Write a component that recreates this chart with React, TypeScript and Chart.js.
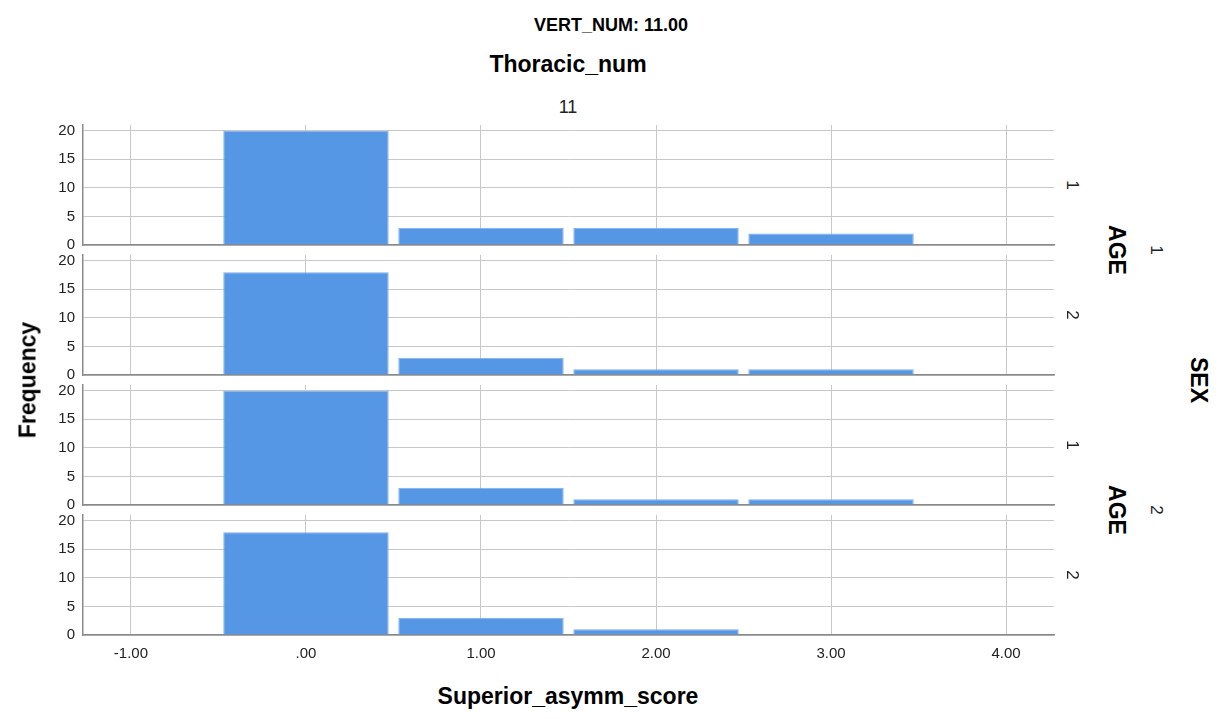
import React, { useEffect, useRef } from "react";
import { Chart, registerables } from "chart.js";

Chart.register(...registerables);

// ---- data ----
const binCenters = [0, 1, 2, 3];
const xTickValues = [-1, 0, 1, 2, 3, 4];
const xTickLabels = ["-1.00", ".00", "1.00", "2.00", "3.00", "4.00"];
const yTickValues = [0, 5, 10, 15, 20];
const sex1Age1 = [20, 3, 3, 2];
const sex1Age2 = [18, 3, 1, 1];
const sex2Age1 = [20, 3, 1, 1];
const sex2Age2 = [18, 3, 1, 0];
const panelValues = [sex1Age1, sex1Age2, sex2Age1, sex2Age2];
const ageLabels = ["1", "2", "1", "2"];
const sexLabels = ["1", "2"];

const FONT = "'Liberation Sans', Arial, Helvetica, sans-serif";
const BAR = "#5596e5";
const GRID = "#c8c8c8";
const AXIS = "#8a8a8a";

const PANEL_TOP = 125;
const PANEL_H = 120;
const PANEL_STEP = 130;
const PAD = 22;
const X_AXIS_H = 40;

function Panel({ values, index, showX }: { values: number[]; index: number; showX: boolean }) {
  const ref = useRef<HTMLCanvasElement | null>(null);
  useEffect(() => {
    if (!ref.current) return;
    const chart = new Chart(ref.current, {
      type: "bar",
      data: {
        datasets: [
          {
            data: binCenters.map((x, i) => ({ x, y: values[i] })),
            backgroundColor: BAR,
            borderColor: "#7eaeea",
            borderWidth: 1,
            borderSkipped: "bottom",
            categoryPercentage: 1,
            barPercentage: 0.945,
          },
        ],
      },
      options: {
        animation: false,
        responsive: false,
        events: [],
        layout: { padding: { top: PAD, bottom: showX ? 0 : PAD, left: 0, right: 8 } },
        plugins: { legend: { display: false }, tooltip: { enabled: false }, title: { display: false } },
        scales: {
          x: {
            type: "linear",
            min: -1.274,
            max: 4.274,
            offset: false,
            grid: { color: GRID, lineWidth: 1, drawTicks: false, offset: false },
            border: { color: AXIS, width: 1.5 },
            afterBuildTicks: (scale: any) => {
              scale.ticks = xTickValues.map((v) => ({ value: v }));
            },
            afterFit: (scale: any) => {
              scale.height = showX ? X_AXIS_H : 0;
            },
            ticks: {
              display: showX,
              autoSkip: false,
              maxRotation: 0,
              padding: 10,
              color: "#222",
              font: { family: FONT, size: 15 },
              callback: (v: any) => {
                const i = xTickValues.indexOf(Number(v));
                return i >= 0 ? xTickLabels[i] : "";
              },
            },
          },
          y: {
            type: "linear",
            min: 0,
            max: 21,
            grid: { color: GRID, lineWidth: 1, drawTicks: false },
            border: { color: AXIS, width: 1.5 },
            afterBuildTicks: (scale: any) => {
              scale.ticks = yTickValues.map((v) => ({ value: v }));
            },
            afterFit: (scale: any) => {
              scale.width = 83;
            },
            ticks: {
              padding: 8,
              color: "#222",
              font: { family: FONT, size: 15 },
            },
          },
        },
      },
    } as any);
    return () => chart.destroy();
  }, [values, showX]);

  const top = PANEL_TOP + PANEL_STEP * index - PAD;
  const height = PAD + PANEL_H + (showX ? X_AXIS_H : PAD);
  return (
    <div style={{ position: "absolute", left: 0, top, width: 1062, height }}>
      <canvas ref={ref} width={1062} height={height} style={{ display: "block" }} />
    </div>
  );
}

function Label({
  text,
  x,
  y,
  size,
  bold,
  rotate,
}: {
  text: string;
  x: number;
  y: number;
  size: number;
  bold?: boolean;
  rotate?: number;
}) {
  return (
    <div
      style={{
        position: "absolute",
        left: x,
        top: y,
        transform: `translate(-50%, -50%) rotate(${rotate || 0}deg)`,
        fontFamily: FONT,
        fontSize: size,
        fontWeight: bold ? "bold" : "normal",
        lineHeight: 1,
        whiteSpace: "nowrap",
        color: bold ? "#000" : "#222",
      }}
    >
      {text}
    </div>
  );
}

export default function App() {
  return (
    <div
      style={{
        position: "absolute",
        left: 0,
        top: 0,
        width: 1225,
        height: 719,
        background: "#fff",
        overflow: "hidden",
      }}
    >
      <Label text="VERT_NUM: 11.00" x={611} y={25} size={18} bold />
      <Label text="Thoracic_num" x={568} y={64} size={23} bold />
      <Label text="11" x={568} y={107} size={18} />
      {panelValues.map((vals, i) => (
        <Panel key={i} values={vals} index={i} showX={i === panelValues.length - 1} />
      ))}
      <Label text="Frequency" x={28} y={380} size={23} bold rotate={-90} />
      <Label text="Superior_asymm_score" x={568} y={696} size={23} bold />
      {ageLabels.map((t, i) => (
        <Label key={"a" + i} text={t} x={1072} y={PANEL_TOP + PANEL_H / 2 + PANEL_STEP * i} size={17} rotate={90} />
      ))}
      {sexLabels.map((t, i) => (
        <React.Fragment key={"s" + i}>
          <Label text="AGE" x={1116} y={250 + 260 * i} size={23} bold rotate={90} />
          <Label text={t} x={1156} y={250 + 260 * i} size={17} rotate={90} />
        </React.Fragment>
      ))}
      <Label text="SEX" x={1198} y={380} size={23} bold rotate={90} />
    </div>
  );
}
